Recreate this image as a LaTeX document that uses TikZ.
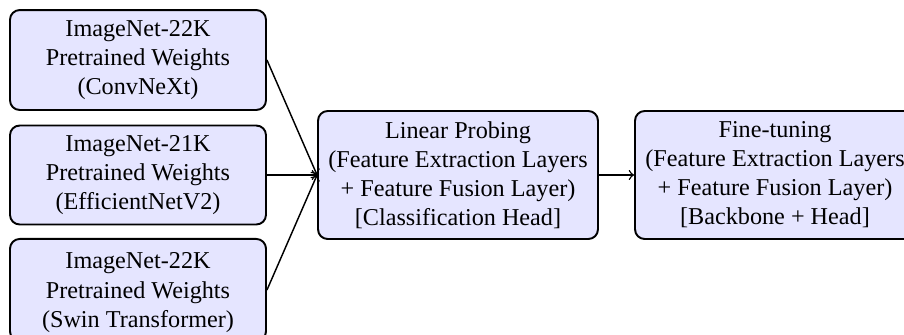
\documentclass[tikz,border=0pt]{standalone}
\usepackage{fontspec}
\setmainfont{Liberation Serif}
\begin{document}
\begin{tikzpicture}[x=0.4133pt,y=-0.4133pt,
  box/.style={draw=black, thick, fill=blue!10, rounded corners=4pt, align=center, font=\fontsize{10}{12}\selectfont, inner sep=0pt},
  srcbox/.style={box, minimum width=105.8pt},
  stagebox/.style={box, minimum width=115.7pt, minimum height=52.9pt},
  conn/.style={->, semithick}]
\useasboundingbox (0,0) rectangle (904,334);
\node[srcbox, minimum height=41.3pt] (a) at (138,60) {ImageNet-22K\\Pretrained Weights\\(ConvNeXt)};
\node[srcbox, minimum height=40.9pt] (b) at (138,175) {ImageNet-21K\\Pretrained Weights\\(EfficientNetV2)};
\node[srcbox, minimum height=42.2pt, text depth=0pt] (c) at (138,290) {ImageNet-22K\\Pretrained Weights\\(Swin Transformer)};
\node[stagebox] (lp) at (458,175) {Linear Probing\\(Feature Extraction Layers\\+ Feature Fusion Layer)\\{}[Classification Head]};
\node[stagebox] (ft) at (775,175) {Fine-tuning\\(Feature Extraction Layers\\+ Feature Fusion Layer)\\{}[Backbone + Head]};
\draw[conn] (a.east) -- (lp.west);
\draw[conn] (b.east) -- (lp.west);
\draw[conn] (c.east) -- (lp.west);
\draw[conn] (lp.east) -- (ft.west);
\end{tikzpicture}
\end{document}
